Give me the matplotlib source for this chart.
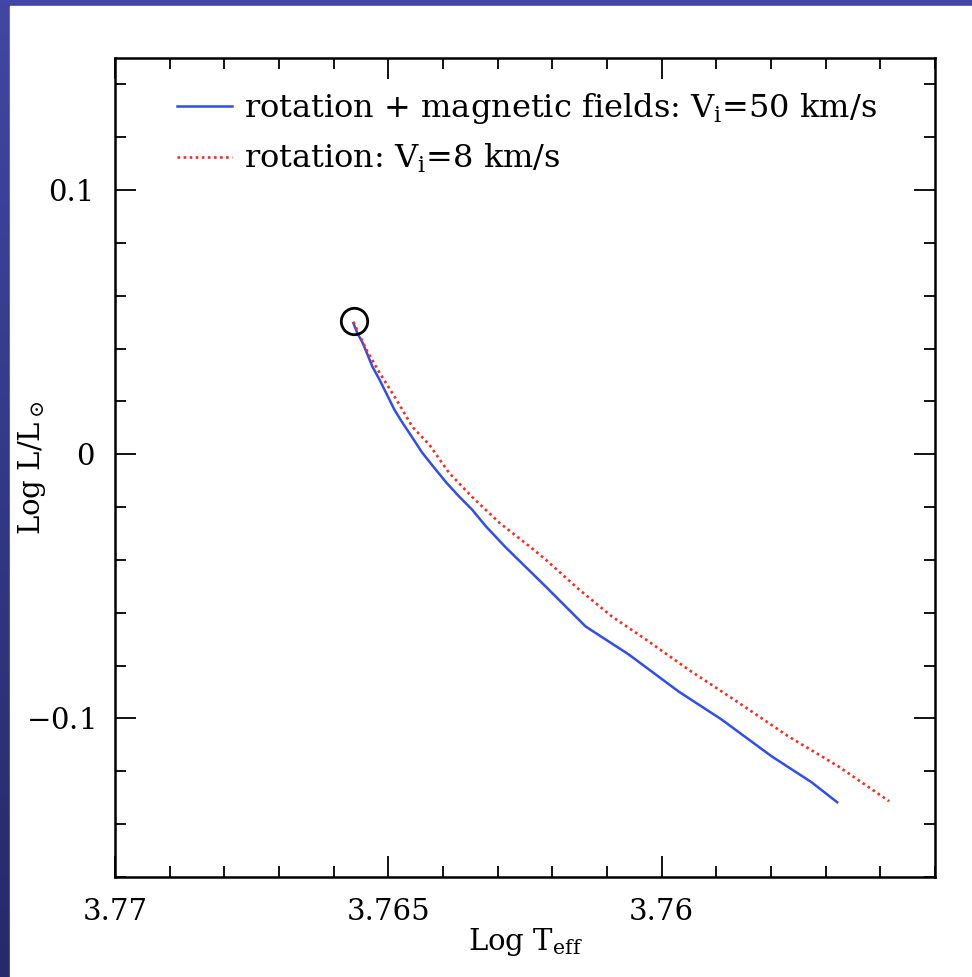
import numpy as np
import matplotlib.pyplot as plt
from matplotlib.colors import LinearSegmentedColormap
from matplotlib.patches import Rectangle
from matplotlib.ticker import MultipleLocator

# track with rotation + magnetic fields (Vi = 50 km/s)
teff_mag = [3.76564, 3.76557, 3.76547, 3.76538, 3.76529, 3.76516, 3.76504, 3.76489,
            3.76474, 3.76456, 3.76438, 3.76416, 3.76394, 3.76370, 3.76347, 3.76321,
            3.76285, 3.76212, 3.76139, 3.76060, 3.75969, 3.75891, 3.75799, 3.75726,
            3.75679]
lum_mag = [0.0497, 0.0460, 0.0422, 0.0377, 0.0331, 0.0282, 0.0232, 0.0169,
           0.0119, 0.0063, 0.0006, -0.0051, -0.0107, -0.0161, -0.0209, -0.0274,
           -0.0353, -0.0501, -0.0652, -0.0758, -0.0898, -0.1003, -0.1143, -0.1241,
           -0.1317]

# track with rotation only (Vi = 8 km/s)
teff_rot = [3.76564, 3.76540, 3.76516, 3.76485, 3.76456, 3.76425, 3.76389, 3.76347,
            3.76297, 3.76239, 3.76212, 3.76151, 3.76091, 3.76029, 3.75951, 3.75860,
            3.75768, 3.75677, 3.75584]
lum_rot = [0.0501, 0.0395, 0.0308, 0.0206, 0.0104, 0.0036, -0.0070, -0.0161,
           -0.0259, -0.0353, -0.0399, -0.0512, -0.0614, -0.0701, -0.0815, -0.0939,
           -0.1068, -0.1181, -0.1313]

# starting point (ZAMS)
start_teff = [3.76562]
start_lum = [0.0505]

plt.rcParams['font.family'] = 'DejaVu Serif'
plt.rcParams['mathtext.fontset'] = 'dejavuserif'

fig = plt.figure(figsize=(9.72, 9.77), dpi=100)

# blue slide background with white panel
bg = fig.add_axes([0, 0, 1, 1], zorder=-2)
cmap = LinearSegmentedColormap.from_list('slide', ['#4147a3', '#262a68'])
bg.imshow(np.linspace(0, 1, 256).reshape(-1, 1), cmap=cmap, aspect='auto',
          extent=[0, 1, 0, 1])
bg.add_patch(Rectangle((10 / 972, 0), 1, 1 - 6 / 977, color='white'))
bg.set_xlim(0, 1)
bg.set_ylim(0, 1)
bg.axis('off')

ax = fig.add_axes([115 / 972, 1 - 877 / 977, 820 / 972, 819 / 977])

ax.plot(teff_mag, lum_mag, color='#2f4cf5', lw=1.8,
        label='rotation + magnetic fields: V$_{\\rm i}$=50 km/s')
ax.plot(teff_rot, lum_rot, color='#ff2a1a', lw=1.9, linestyle=(0, (1, 1.3)),
        label='rotation: V$_{\\rm i}$=8 km/s')
ax.plot(start_teff, start_lum, 'o', mfc='none', mec='black', ms=19, mew=2)

ax.set_xlim(3.770, 3.755)
ax.set_ylim(-0.16, 0.15)
ax.xaxis.set_major_locator(MultipleLocator(0.005))
ax.xaxis.set_minor_locator(MultipleLocator(0.001))
ax.yaxis.set_major_locator(MultipleLocator(0.1))
ax.yaxis.set_minor_locator(MultipleLocator(0.02))
ax.set_xticks([3.77, 3.765, 3.76])
ax.set_xticklabels(['3.77', '3.765', '3.76'])
ax.set_yticks([-0.1, 0, 0.1])
ax.set_yticklabels(['$-$0.1', '0', '0.1'])

ax.tick_params(which='both', direction='in', top=True, right=True, width=1.3)
ax.tick_params(which='major', length=15, labelsize=21, pad=15)
ax.tick_params(which='minor', length=8)
for s in ax.spines.values():
    s.set_linewidth(1.8)

ax.set_xlabel('Log T$_{\\rm eff}$', fontsize=21)
ax.set_ylabel('Log L/L$_\\odot$', fontsize=21)
ax.xaxis.set_label_coords(0.5, -0.06)
ax.yaxis.set_label_coords(-0.082, 0.5)

ax.legend(loc='upper left', bbox_to_anchor=(0.075, 0.96), frameon=False,
          fontsize=23, handlelength=1.75, handletextpad=0.35, labelspacing=0.5,
          borderpad=0, borderaxespad=0)

plt.savefig('out.png', dpi=100)
